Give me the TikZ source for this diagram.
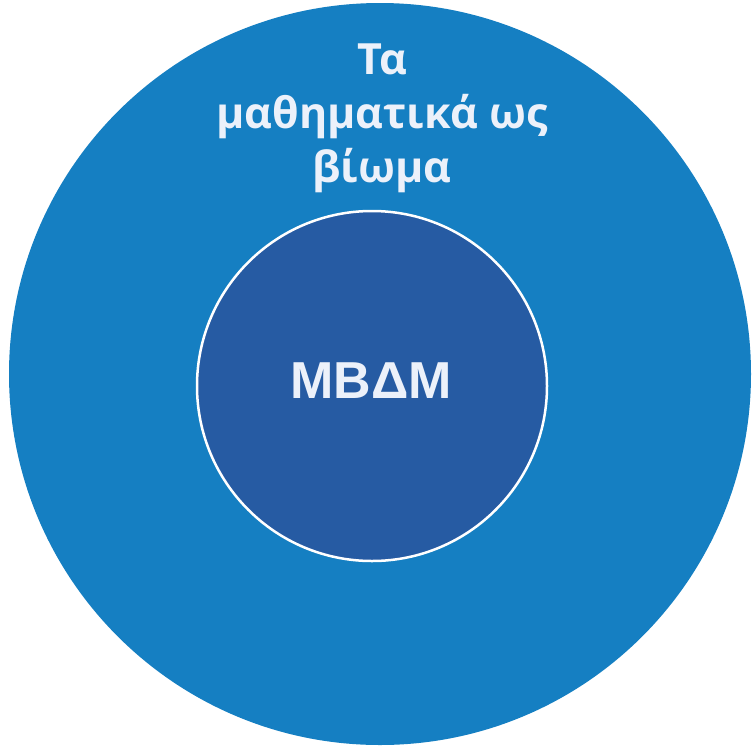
\documentclass[tikz,border=0pt]{standalone}
\usepackage{fontspec}
\setmainfont{Liberation Sans}
\newfontfamily\titlefont{Open Sans}
\begin{document}
\begin{tikzpicture}[x=1pt,y=-1pt,
  outerdisc/.style={circle,fill=outerblue,draw=none,minimum size=742pt,inner sep=0pt},
  innerdisc/.style={circle,fill=innerblue,draw=white,line width=2.5pt,minimum size=350pt,inner sep=0pt},
  label/.style={text=labelwhite,inner sep=0pt}]
\definecolor{outerblue}{RGB}{21,127,194}
\definecolor{innerblue}{RGB}{38,91,163}
\definecolor{labelwhite}{RGB}{236,241,250}
\useasboundingbox (0,0) rectangle (755,745);
\node[outerdisc] (outer) at (380,374) {};
\node[innerdisc] (inner) at (372,386) {};
% the base anchor of a multi-line node sits on its last line
\node[label,align=center,anchor=base,font=\titlefont\bfseries\fontsize{43}{54}\selectfont] (title) at (382,182)
  {Τα\\μαθηματικά ως\\βίωμα};
\node[label,anchor=base,font=\bfseries\fontsize{52}{60}\selectfont] (core) at (371,398) {ΜΒΔΜ};
\end{tikzpicture}
\end{document}
